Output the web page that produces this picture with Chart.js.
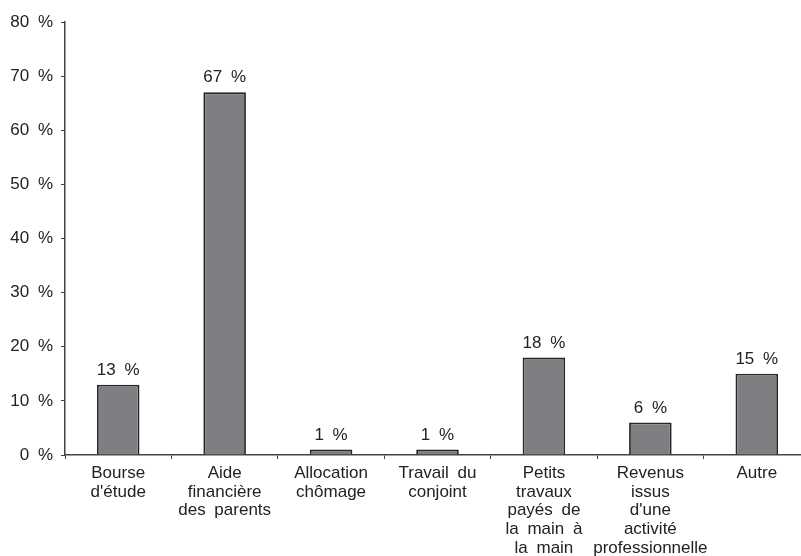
<!DOCTYPE html>
<html>
<head>
<meta charset="utf-8">
<script src="https://cdn.jsdelivr.net/npm/chart.js@4"></script>
<style>
  html, body { margin: 0; padding: 0; background: #fff; overflow: hidden; }
  #wrap { width: 812px; height: 556px; }
</style>
</head>
<body>
<div id="wrap"><canvas id="myChart" width="812" height="556"></canvas></div>
<script>
const categories = [
    ['Bourse', "d'étude"],
    ['Aide', 'financière', 'des parents'],
    ['Allocation', 'chômage'],
    ['Travail du', 'conjoint'],
    ['Petits', 'travaux', 'payés de', 'la main à', 'la main'],
    ['Revenus', 'issus', "d'une", 'activité', 'professionnelle'],
    ['Autre']
];
const shares = [13, 67, 1, 1, 18, 6, 15];
const yTicks = [0, 10, 20, 30, 40, 50, 60, 70, 80];

const fontFamily = '"Liberation Sans", Arial, sans-serif';

// wider word spacing, like the original print
const spacing = {
    id: 'spacing',
    beforeLayout(chart) { chart.ctx.wordSpacing = '4px'; },
    beforeDraw(chart) { chart.ctx.wordSpacing = '4px'; }
};

const valueLabels = {
    id: 'valueLabels',
    afterDatasetsDraw(chart) {
        const ctx = chart.ctx;
        const meta = chart.getDatasetMeta(0);
        ctx.save();
        ctx.font = '17px ' + fontFamily;
        ctx.fillStyle = '#222';
        ctx.textAlign = 'center';
        ctx.textBaseline = 'alphabetic';
        meta.data.forEach((bar, i) => {
            ctx.fillText(shares[i] + ' %', bar.x, bar.y - 10);
        });
        ctx.restore();
    }
};

const ctx = document.getElementById('myChart').getContext('2d');
const myChart = new Chart(ctx, {
    type: 'bar',
    data: {
        labels: categories,
        datasets: [{
            data: shares,
            backgroundColor: '#7f7f83',
            borderColor: '#262626',
            borderWidth: 1.8,
            barPercentage: 0.4,
            categoryPercentage: 1
        }]
    },
    options: {
        responsive: false,
        animation: false,
        layout: { padding: { top: 22, right: 2, left: 0, bottom: 0 } },
        plugins: {
            legend: { display: false },
            tooltip: { enabled: false }
        },
        scales: {
            x: {
                grid: {
                    offset: true,
                    drawOnChartArea: false,
                    drawTicks: true,
                    tickLength: 4,
                    color: '#444'
                },
                border: { color: '#444', width: 1.5 },
                ticks: {
                    color: '#222',
                    font: { family: fontFamily, size: 17, lineHeight: 1.1 },
                    padding: 5,
                    maxRotation: 0,
                    autoSkip: false
                },
                afterFit(scale) { scale.height = 101; }
            },
            y: {
                min: 0,
                max: 80,
                afterBuildTicks(scale) {
                    scale.ticks = yTicks.map(v => ({ value: v }));
                },
                grid: {
                    drawOnChartArea: false,
                    drawTicks: true,
                    tickLength: 4,
                    color: '#444'
                },
                border: { color: '#444', width: 1.5 },
                ticks: {
                    color: '#222',
                    font: { family: fontFamily, size: 17 },
                    padding: 8,
                    callback: v => v + ' %'
                },
                afterFit(scale) { scale.width = 65; }
            }
        }
    },
    plugins: [spacing, valueLabels]
});
</script>
</body>
</html>
